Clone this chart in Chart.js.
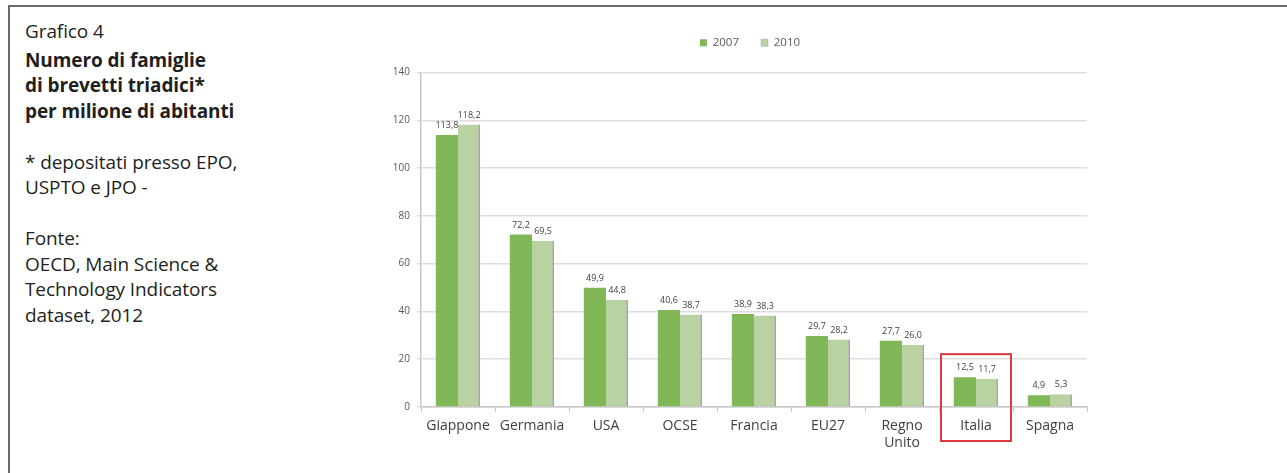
<!DOCTYPE html>
<html>
<head>
<meta charset="utf-8">
<script src="https://cdn.jsdelivr.net/npm/chart.js@4/dist/chart.umd.min.js"></script>
<style>
  html, body { margin: 0; padding: 0; background: #fff; }
  body { width: 1287px; height: 473px; position: relative; overflow: hidden; }
  #frame {
    position: absolute; left: 8px; top: 5px; width: 1290px; height: 480px;
    border-left: 2px solid #6b6b6b; border-top: 2px solid #6b6b6b;
  }
  #testo {
    position: absolute; left: 25px; top: 19px;
    font-family: "Open Sans", sans-serif; font-size: 19px; line-height: 25.5px;
    color: #231f20; letter-spacing: -0.1px;
  }
  #testo .titolo { margin-bottom: 3px; }
  #testo b { font-weight: 700; }
  #box { position: absolute; left: 340px; top: 0; width: 947px; height: 473px; }
</style>
</head>
<body>
<div id="frame"></div>
<div id="testo">
  <div class="titolo">Grafico 4</div>
  <b>Numero di famiglie<br>di brevetti triadici*<br>per milione di abitanti</b><br>
  <br>
  * depositati presso EPO,<br>USPTO e JPO -<br>
  <br>
  Fonte:<br>OECD, Main Science &amp;<br>Technology Indicators<br>dataset, 2012
</div>
<div id="box"><canvas id="grafico" width="947" height="473"></canvas></div>

<script>
// Dati
const paesi = ["Giappone", "Germania", "USA", "OCSE", "Francia", "EU27", ["Regno", "Unito"], "Italia", "Spagna"];
const valori2007 = [113.8, 72.2, 49.9, 40.6, 38.9, 29.7, 27.7, 12.5, 4.9];
const valori2010 = [118.2, 69.5, 44.8, 38.7, 38.3, 28.2, 26.0, 11.7, 5.3];
const anni = ["2007", "2010"];
const evidenziato = "Italia";

// Etichette con i valori sopra le barre
const etichetteValori = {
  id: "etichetteValori",
  afterDatasetsDraw(chart) {
    const ctx = chart.ctx;
    ctx.save();
    ctx.font = "9px 'Open Sans', sans-serif";
    ctx.fillStyle = "#404040";
    ctx.textAlign = "center";
    ctx.textBaseline = "bottom";
    chart.data.datasets.forEach((ds, i) => {
      chart.getDatasetMeta(i).data.forEach((bar, j) => {
        ctx.fillText(ds.data[j].toFixed(1).replace(".", ","), bar.x, bar.y - 5);
      });
    });
    ctx.restore();
  },
};

// Riquadro rosso attorno all'Italia
const riquadro = {
  id: "riquadro",
  afterDraw(chart) {
    const idx = paesi.indexOf(evidenziato);
    const x = chart.scales.x;
    const meta = chart.getDatasetMeta(0).data[idx];
    const meta2 = chart.getDatasetMeta(1).data[idx];
    const halfCat = x.width / paesi.length / 2 - 2;
    const cx = (meta.x + meta2.x) / 2;
    const top = Math.min(meta.y, meta2.y) - 23;
    const bottom = chart.chartArea.bottom + 34;
    const ctx = chart.ctx;
    ctx.save();
    ctx.strokeStyle = "#e0393e";
    ctx.lineWidth = 2;
    ctx.strokeRect(cx - halfCat, top, halfCat * 2, bottom - top);
    ctx.restore();
  },
};

// Legenda: spazio extra sotto e centrata sull'area del grafico
const sistemaLegenda = {
  id: "sistemaLegenda",
  beforeInit(chart) {
    const fit = chart.legend.fit;
    chart.legend.fit = function () {
      fit.bind(chart.legend)();
      this.height += 14;
    };
  },
  afterLayout(chart) {
    chart.legend.left = chart.chartArea.left - 8;
    chart.legend.right = chart.chartArea.right;
  },
};

const ctx = document.querySelector("#grafico").getContext("2d");
new Chart(ctx, {
  type: "bar",
  data: {
    labels: paesi,
    datasets: [
      {
        label: anni[0],
        data: valori2007,
        backgroundColor: "#80b858",
        borderWidth: 0,
      },
      {
        label: anni[1],
        data: valori2010,
        backgroundColor: "#b8d2a2",
        borderColor: "#a4a9a0",
        borderWidth: { top: 0, right: 2, bottom: 0, left: 0 },
      },
    ],
  },
  plugins: [etichetteValori, riquadro, sistemaLegenda],
  options: {
    responsive: false,
    animation: false,
    layout: { padding: { top: 15, right: 200, left: 0, bottom: 0 } },
    datasets: { bar: { categoryPercentage: 0.6, barPercentage: 1 } },
    plugins: {
      tooltip: { enabled: false },
      legend: {
        position: "top",
        labels: {
          boxWidth: 7,
          boxHeight: 7,
          padding: 22,
          color: "#595959",
          font: { family: "'Open Sans', sans-serif", size: 11.5 },
        },
      },
    },
    scales: {
      x: {
        grid: {
          display: true,
          drawOnChartArea: false,
          offset: true,
          tickLength: 5,
          color: "#c8c8c8",
        },
        border: { color: "#c8c8c8", width: 1.5 },
        ticks: {
          padding: 6,
          color: "#404040",
          font: { family: "'Open Sans', sans-serif", size: 14 },
          maxRotation: 0,
          autoSkip: false,
        },
        afterFit(scale) {
          scale.height = 66;
        },
      },
      y: {
        min: 0,
        max: 140,
        ticks: {
          stepSize: 20,
          padding: 7,
          color: "#595959",
          font: { family: "'Open Sans', sans-serif", size: 10 },
        },
        grid: { color: "#dedede", lineWidth: 1.5, tickLength: 4 },
        border: { color: "#c8c8c8", width: 1.5 },
        afterFit(scale) {
          scale.width = 81;
        },
      },
    },
  },
});
</script>
</body>
</html>
